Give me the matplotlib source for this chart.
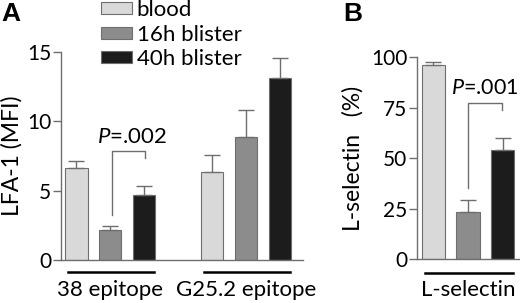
import matplotlib
matplotlib.use("Agg")
import matplotlib.pyplot as plt
import numpy as np
from matplotlib.patches import Patch

plt.rcParams['font.family'] = ['Lato', 'DejaVu Sans']
plt.rcParams['mathtext.fontset'] = 'custom'
plt.rcParams['mathtext.it'] = 'Lato:italic'
plt.rcParams['mathtext.rm'] = 'Lato'

# data
series = ["blood", "16h blister", "40h blister"]
colors = ["#d9d9d9", "#8c8c8c", "#1c1c1c"]
groups_a = ["38 epitope", "G25.2 epitope"]
lfa_mean = {"blood": [6.65, 6.34], "16h blister": [2.14, 8.9], "40h blister": [4.71, 13.1]}
lfa_err = {"blood": [0.5, 1.2], "16h blister": [0.3, 1.9], "40h blister": [0.6, 1.5]}
groups_b = ["L-selectin"]
lsel_mean = {"blood": [96.3], "16h blister": [23.6], "40h blister": [53.9]}
lsel_err = {"blood": [1.4], "16h blister": [5.9], "40h blister": [6.0]}
yticks_a = [0, 5, 10, 15]
yticks_b = [0, 25, 50, 75, 100]
p_a = "$\\it{P}$=.002"
p_b = "$\\it{P}$=.001"

FS = 16
grey = "#6e6e6e"

fig = plt.figure(figsize=(5.2, 3.03), dpi=100)
ax1 = fig.add_axes([61/520, 1-260/303, 242/520, 208/303])
ax2 = fig.add_axes([417/520, 1-259.3/303, 103/520, 202/303])


def draw(ax, groups, means, errs, bw):
    for gi, g in enumerate(groups):
        for si, s in enumerate(series):
            x = gi * 4 + si
            ax.bar(x, means[s][gi], bw, color=colors[si], edgecolor=grey, lw=0.8,
                   yerr=[[0], [errs[s][gi]]],
                   error_kw=dict(ecolor=grey, elinewidth=1, capsize=6, capthick=1))
    for sp in ["top", "right"]:
        ax.spines[sp].set_visible(False)
    for sp in ["left", "bottom"]:
        ax.spines[sp].set_color(grey)
        ax.spines[sp].set_linewidth(1)
    ax.tick_params(axis="y", colors=grey, labelcolor="black", labelsize=15,
                   length=6, width=1, pad=1)
    ax.tick_params(axis="x", bottom=False, labelbottom=False)


draw(ax1, groups_a, lfa_mean, lfa_err, 0.65)
draw(ax2, groups_b, lsel_mean, lsel_err, 0.67)

ax1.set_xlim(-0.457, 6.68)
ax1.set_ylim(0, 15)
ax1.set_yticks(yticks_a)
ax2.set_xlim(-0.478, 2.507)
ax2.set_ylim(0, 100)
ax2.set_yticks(yticks_b)

ax1.set_ylabel("LFA-1 (MFI)", fontsize=16.5)
ax1.yaxis.set_label_coords(-0.16, 0.5)
ax2.set_ylabel("L-selectin   (%)", fontsize=16.5)
ax2.yaxis.set_label_coords(-0.52, 0.5)

# group underlines and labels
for ax, groups, yl, yt in [(ax1, groups_a, -0.058, -0.145), (ax2, groups_b, -0.066, -0.152)]:
    tr = ax.get_xaxis_transform()
    for gi, g in enumerate(groups):
        x0 = gi * 4
        ax.plot([x0 - 0.25, x0 + 2.3], [yl, yl], color="black", lw=1.8,
                transform=tr, clip_on=False)
        ax.text(x0 + 1, yt, g, transform=tr, ha="center", va="center", fontsize=FS)

# significance brackets
ax1.plot([1.04, 1.04, 2.02, 2.02], [3.24, 7.86, 7.86, 7.38], color=grey, lw=1)
ax1.text(0.59, 8.41, p_a, fontsize=FS, ha="left", va="baseline")
ax2.plot([1.0, 1.0, 1.99, 1.99], [35.3, 77.2, 77.2, 73.9], color=grey, lw=1, clip_on=False)
ax2.text(0.52, 81.7, p_b, fontsize=15.5, ha="left", va="baseline", clip_on=False)

# legend
handles = [Patch(facecolor=c, edgecolor=grey, lw=0.8) for c in colors]
fig.legend(handles, series, loc="upper left", bbox_to_anchor=(101/520, 1 + 0/303),
           frameon=False, fontsize=FS, handlelength=1.4, handleheight=0.45,
           handletextpad=0.2, labelspacing=0.21, borderpad=0, borderaxespad=0)

fig.text(1/520, 1-2/303, "A", fontsize=19, fontweight="bold",
         family="Liberation Sans", ha="left", va="top")
fig.text(343/520, 1-2/303, "B", fontsize=19, fontweight="bold",
         family="Liberation Sans", ha="left", va="top")

fig.savefig("out.png", dpi=100)
